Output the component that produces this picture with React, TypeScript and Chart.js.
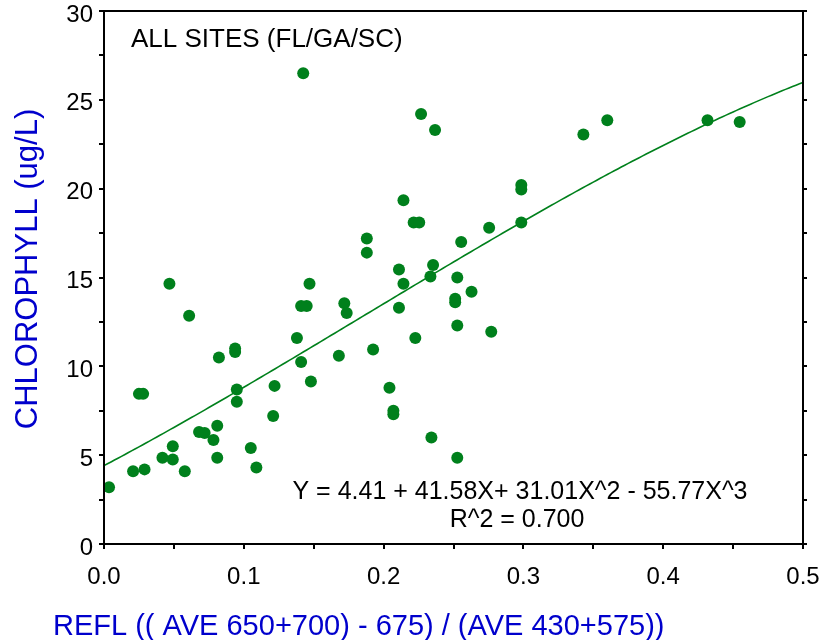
import React, { useEffect, useRef } from "react";
import { Chart, registerables } from "chart.js";

Chart.register(...registerables);

// Reflectance index (x) and measured chlorophyll, ug/L (y)
const reflX = [
  0.0036, 0.0208, 0.029, 0.025, 0.028, 0.0468, 0.0418, 0.0492, 0.0492, 0.0578,
  0.0609, 0.068, 0.072, 0.0783, 0.081, 0.081, 0.0822, 0.0938, 0.0938, 0.095,
  0.095, 0.105, 0.109, 0.121, 0.122, 0.138, 0.141, 0.148, 0.147, 0.141,
  0.145, 0.1425, 0.168, 0.1719, 0.1736, 0.188, 0.188, 0.1925, 0.2042, 0.207,
  0.207, 0.211, 0.211, 0.2142, 0.2142, 0.2215, 0.2255, 0.2227, 0.2268, 0.2368,
  0.2342, 0.2335, 0.2354, 0.2527, 0.2527, 0.2512, 0.2512, 0.2527, 0.2555, 0.2629,
  0.2755, 0.277, 0.2985, 0.2985, 0.2985, 0.3429, 0.36, 0.4317, 0.4547,
];
const chlA = [
  3.2, 4.1, 4.2, 8.45, 8.45, 14.65, 4.85, 5.5, 4.75, 4.1,
  12.85, 6.3, 6.25, 5.85, 6.65, 4.85, 10.5, 10.8, 11.0, 8.7,
  8.0, 5.4, 4.3, 7.2, 8.9, 11.6, 10.25, 9.15, 14.65, 13.4,
  13.4, 26.5, 10.6, 13.55, 13.0, 17.2, 16.4, 10.95, 8.8, 7.5,
  7.3, 15.45, 13.3, 14.65, 19.35, 18.1, 18.1, 11.6, 24.2, 23.3,
  6.0, 15.05, 15.7, 15.0, 12.3, 13.8, 13.6, 4.85, 17.0, 14.2,
  17.8, 11.95, 20.2, 19.95, 18.1, 23.05, 23.85, 23.85, 23.75,
];

// Cubic fit: Y = c0 + c1 X + c2 X^2 + c3 X^3
const fitCoef = [4.41, 41.58, 31.01, -55.77];
const fitR2 = "0.700";

const xRange = [0, 0.5];
const yRange = [0, 30];
const xMajorStep = 0.1;
const xMinorStep = 0.05;
const yMajorStep = 5;
const yMinorStep = 2.5;

const plotTitle = "ALL SITES (FL/GA/SC)";
const xTitle = "REFL (( AVE 650+700) - 675) / (AVE 430+575))";
const yTitle = "CHLOROPHYLL (ug/L)";

const GREEN = "#00801c";
const BLUE = "#0000cc";
const FONT = "'Liberation Sans', Arial, sans-serif";

const fmt = (c: number) => c.toFixed(2);
const equationText =
  `Y = ${fmt(fitCoef[0])} + ${fmt(fitCoef[1])}X+ ${fmt(fitCoef[2])}X^2 - ${fmt(Math.abs(fitCoef[3]))}X^3`;

function fitPoints() {
  const pts: { x: number; y: number }[] = [];
  const n = 200;
  for (let i = 0; i <= n; i++) {
    const x = xRange[0] + ((xRange[1] - xRange[0]) * i) / n;
    const y = fitCoef[0] + fitCoef[1] * x + fitCoef[2] * x * x + fitCoef[3] * x * x * x;
    pts.push({ x, y });
  }
  return pts;
}

const framePlugin = {
  id: "frameAndText",
  afterDraw(chart: any) {
    const { ctx, chartArea: a, scales } = chart;
    const xs = scales.x;
    const ys = scales.y;
    ctx.save();
    ctx.strokeStyle = "#000";
    ctx.lineWidth = 2;
    ctx.strokeRect(a.left, a.top, a.right - a.left, a.bottom - a.top);

    const seg = (x1: number, y1: number, x2: number, y2: number) => {
      ctx.beginPath();
      ctx.moveTo(x1, y1);
      ctx.lineTo(x2, y2);
      ctx.stroke();
    };
    for (let v = yRange[0]; v <= yRange[1] + 1e-9; v += yMinorStep) {
      const y = Math.round(ys.getPixelForValue(v));
      seg(a.left - 5, y, a.left, y);
      seg(a.right, y, a.right + 4, y);
    }
    for (let v = xRange[0]; v <= xRange[1] + 1e-9; v += xMinorStep) {
      const x = Math.round(xs.getPixelForValue(v));
      seg(x, a.bottom, x, a.bottom + 5);
    }

    // in-plot annotations
    ctx.fillStyle = "#000";
    ctx.textBaseline = "alphabetic";
    ctx.font = `26px ${FONT}`;
    ctx.textAlign = "left";
    ctx.fillText(plotTitle, a.left + 27, a.top + 36);

    ctx.font = `25px ${FONT}`;
    ctx.textAlign = "center";
    const cx = a.left + 416;
    ctx.fillText(equationText, cx, a.bottom - 45);
    ctx.fillText(`R^2 = ${fitR2}`, cx - 3, a.bottom - 17);

    // axis titles
    ctx.fillStyle = BLUE;
    ctx.font = `29px ${FONT}`;
    ctx.textAlign = "left";
    ctx.fillText(xTitle, 53, a.bottom + 91);

    ctx.save();
    ctx.translate(37, a.top + 258);
    ctx.rotate(-Math.PI / 2);
    ctx.font = `31px ${FONT}`;
    ctx.textAlign = "center";
    ctx.fillText(yTitle, 0, 0);
    ctx.restore();

    ctx.restore();
  },
};

export default function App() {
  const canvasRef = useRef<HTMLCanvasElement | null>(null);

  useEffect(() => {
    if (!canvasRef.current) return;
    const scatter = reflX.map((x, i) => ({ x, y: chlA[i] }));
    const chart = new Chart(canvasRef.current, {
      type: "scatter",
      data: {
        datasets: [
          {
            label: "Samples",
            data: scatter,
            backgroundColor: GREEN,
            borderColor: GREEN,
            pointRadius: 6,
            pointBorderWidth: 0,
            order: 0,
          },
          {
            label: "Cubic fit",
            data: fitPoints(),
            showLine: true,
            borderColor: GREEN,
            borderWidth: 1.6,
            pointRadius: 0,
            fill: false,
            order: 1,
          } as any,
        ],
      },
      options: {
        responsive: false,
        animation: false,
        events: [],
        layout: { padding: { left: 0, right: 28, top: 11, bottom: 0 } },
        plugins: {
          legend: { display: false },
          tooltip: { enabled: false },
          title: { display: false },
        },
        scales: {
          x: {
            type: "linear",
            min: xRange[0],
            max: xRange[1],
            grid: { display: false, drawTicks: false },
            border: { display: false },
            ticks: {
              stepSize: xMajorStep,
              color: "#000",
              padding: 19,
              font: { family: FONT, size: 24 },
              maxRotation: 0,
              callback: (v: any) => Number(v).toFixed(1),
            },
            afterFit: (s: any) => {
              s.height = 96;
              s.paddingLeft = 0;
              s.paddingRight = 0;
            },
          },
          y: {
            type: "linear",
            min: yRange[0],
            max: yRange[1],
            grid: { display: false, drawTicks: false },
            border: { display: false },
            ticks: {
              stepSize: yMajorStep,
              color: "#000",
              padding: 11,
              labelOffset: 4,
              font: { family: FONT, size: 24 },
              callback: (v: any) => String(v),
            },
            afterFit: (s: any) => {
              s.width = 104;
              s.paddingTop = 0;
              s.paddingBottom = 0;
            },
          },
        },
      },
      plugins: [framePlugin],
    });
    return () => chart.destroy();
  }, []);

  return (
    <div style={{ position: "absolute", left: 0, top: 0, width: 831, height: 640, background: "#fff" }}>
      <canvas ref={canvasRef} width={831} height={640} />
    </div>
  );
}
